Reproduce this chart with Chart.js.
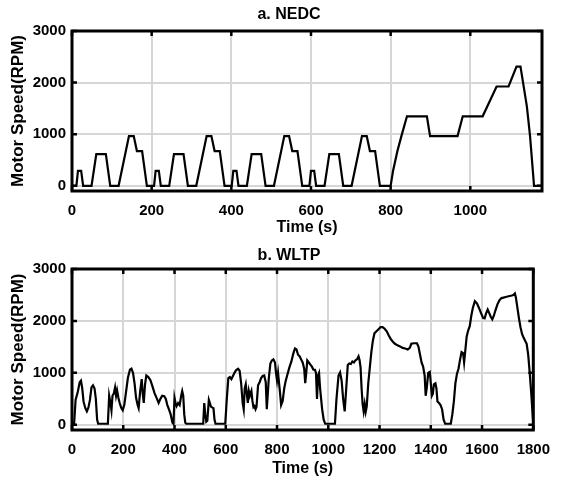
<!DOCTYPE html>
<html>
<head>
<meta charset="utf-8">
<script src="https://cdn.jsdelivr.net/npm/chart.js@4.4.1/dist/chart.umd.min.js"></script>
<style>
  html, body { margin: 0; padding: 0; background: #fff; }
  canvas { display: block; }
</style>
</head>
<body>
<canvas id="nedc" width="561" height="241"></canvas>
<canvas id="wltp" width="561" height="241"></canvas>
<script>
// NEDC motor speed (RPM) vs time (s)
const nedcTime = [
  0, 11, 15, 23, 28, 49, 61, 85, 96, 117, 143, 155, 163, 176, 188, 195,
  206, 210, 218, 223, 244, 256, 280, 291, 312, 338, 350, 358, 371, 383, 390,
  401, 405, 413, 418, 439, 451, 475, 486, 507, 533, 545, 553, 566, 578, 585,
  596, 600, 608, 613, 634, 646, 670, 681, 702, 728, 740, 748, 761, 773, 780,
  800, 806, 817, 827, 841, 891, 899, 968, 981, 1031, 1066, 1096, 1116, 1126, 1142, 1150, 1160, 1180
];
const nedcRpm = [
  0, 0, 289, 289, 0, 0, 616, 616, 0, 0, 963, 963, 674, 674, 0, 0,
  0, 289, 289, 0, 0, 616, 616, 0, 0, 963, 963, 674, 674, 0, 0,
  0, 289, 289, 0, 0, 616, 616, 0, 0, 963, 963, 674, 674, 0, 0,
  0, 289, 289, 0, 0, 616, 616, 0, 0, 963, 963, 674, 674, 0, 0,
  0, 289, 674, 963, 1347, 1347, 963, 963, 1347, 1347, 1925, 1925, 2310, 2310, 1540, 963, 0, 0
];

// WLTP motor speed (RPM) vs time (s)
const wltpTime = [
  0, 8, 14, 22, 30, 35, 40, 45, 52, 58, 64, 70, 76, 82, 88, 93, 98, 102, 140,
  145, 150, 154, 158, 163, 168, 172, 176, 181, 186, 192, 198, 204, 210, 218, 226,
  232, 238, 244, 250, 256, 260, 266, 272, 276, 280, 285, 290, 298, 306, 314, 322,
  330, 338, 345, 352, 360, 366, 372, 378, 385, 392, 396, 400, 404, 408, 414, 420,
  426, 430, 434, 438, 442, 446, 512, 516, 520, 524, 528, 534, 538, 542, 548, 552,
  556, 560, 598, 604, 610, 616, 622, 628, 634, 640, 648, 654, 660, 666, 670, 674,
  678, 682, 686, 690, 694, 700, 704, 708, 712, 716, 720, 726, 732, 738, 744, 750,
  756, 760, 764, 768, 774, 780, 786, 792, 796, 800, 804, 808, 812, 816, 822, 828,
  834, 840, 848, 856, 864, 870, 876, 882, 888, 894, 900, 906, 910, 914, 918, 924,
  930, 936, 942, 948, 952, 956, 960, 964, 968, 972, 976, 982, 988, 1026, 1032, 1040,
  1046, 1052, 1058, 1064, 1070, 1076, 1082, 1088, 1094, 1100, 1106, 1112, 1118, 1122, 1126, 1130,
  1134, 1138, 1142, 1146, 1150, 1156, 1162, 1168, 1174, 1180, 1188, 1196, 1204, 1212, 1220, 1228,
  1236, 1244, 1252, 1260, 1270, 1280, 1290, 1300, 1310, 1318, 1324, 1334, 1346, 1352, 1358, 1364,
  1370, 1376, 1380, 1384, 1390, 1396, 1400, 1404, 1408, 1412, 1418, 1422, 1426, 1432, 1438, 1444,
  1450, 1456, 1478, 1484, 1490, 1496, 1502, 1508, 1514, 1520, 1526, 1530, 1534, 1540, 1546, 1552,
  1558, 1564, 1572, 1580, 1588, 1596, 1604, 1610, 1616, 1622, 1628, 1634, 1640, 1646, 1652, 1660,
  1668, 1676, 1684, 1692, 1700, 1708, 1716, 1722, 1728, 1732, 1738, 1744, 1750, 1756, 1762, 1768,
  1774, 1780, 1786, 1792, 1800
];
const wltpRpm = [
  0, 0, 480, 620, 820, 850, 700, 450, 320, 260, 330, 480, 720, 760, 700, 500, 100, 20, 20,
  560, 420, 280, 560, 600, 720, 560, 660, 520, 420, 330, 280, 380, 600, 900, 1060,
  1080, 1000, 800, 520, 380, 320, 650, 880, 600, 420, 780, 950, 920, 860, 740, 610,
  520, 420, 500, 560, 550, 500, 380, 300, 200, 40, 20, 520, 420, 360, 420, 380,
  560, 650, 560, 200, 40, 20, 20, 420, 200, 60, 80, 480, 420, 350, 330, 320,
  100, 20, 20, 500, 900, 920, 880, 940, 1000, 1050, 1080, 1040, 800, 420, 300, 700,
  780, 600, 420, 650, 560, 650, 460, 340, 360, 300, 350, 760, 820, 900, 940, 950,
  820, 300, 600, 900, 1180, 1240, 1260, 1200, 1000, 850, 1000, 800, 600, 380, 460, 700,
  850, 960, 1100, 1220, 1380, 1470, 1450, 1350, 1320, 1260, 1200, 1080, 800, 1000, 1240, 1200,
  1160, 1120, 1060, 1060, 1000, 500, 950, 1000, 700, 500, 300, 100, 20, 20, 500, 950,
  1010, 850, 500, 260, 700, 1150, 1180, 1170, 1220, 1200, 1240, 1260, 1320, 1250, 1100, 700,
  400, 260, 400, 250, 350, 800, 1100, 1400, 1620, 1760, 1800, 1840, 1880, 1880, 1850, 1800,
  1720, 1650, 1600, 1560, 1530, 1510, 1480, 1470, 1450, 1480, 1560, 1570, 1570, 1500, 1350, 1200,
  1120, 950, 560, 700, 1000, 1020, 800, 560, 600, 780, 800, 700, 450, 420, 380, 300,
  100, 20, 20, 200, 450, 800, 980, 1080, 1250, 1400, 1380, 1200, 1400, 1700, 1820, 1900,
  2100, 2250, 2380, 2340, 2250, 2150, 2060, 2050, 2150, 2220, 2150, 2080, 2030, 2100, 2200, 2320,
  2400, 2440, 2450, 2460, 2470, 2480, 2490, 2500, 2530, 2450, 2250, 2050, 1880, 1750, 1680, 1620,
  1560, 1350, 1000, 600, 0
];

const yTicks = [0, 1000, 2000, 3000];
const nedcXTicks = [0, 200, 400, 600, 800, 1000];
const wltpXTicks = [0, 200, 400, 600, 800, 1000, 1200, 1400, 1600, 1800];

const FONT = "'Liberation Sans', Arial, Helvetica, sans-serif";

// box round the plot, MATLAB-style inward ticks, and the subplot title
const framePlugin = {
  id: 'frame',
  afterDraw(chart, args, opts) {
    const { ctx, chartArea: a, scales: { x, y } } = chart;
    ctx.save();
    ctx.strokeStyle = '#000';
    ctx.lineWidth = 2.5;
    ctx.beginPath();
    x.ticks.forEach(t => {
      const px = x.getPixelForValue(t.value);
      ctx.moveTo(px, a.bottom); ctx.lineTo(px, a.bottom - 5);
      ctx.moveTo(px, a.top); ctx.lineTo(px, a.top + 5);
    });
    y.ticks.forEach(t => {
      const py = y.getPixelForValue(t.value);
      ctx.moveTo(a.left, py); ctx.lineTo(a.left + 5, py);
      ctx.moveTo(a.right, py); ctx.lineTo(a.right - 5, py);
    });
    ctx.stroke();
    ctx.lineWidth = 3;
    ctx.strokeRect(a.left, a.top, a.right - a.left, a.bottom - a.top);

    ctx.fillStyle = '#000';
    ctx.font = 'bold 16px ' + FONT;
    ctx.textAlign = 'center';
    ctx.textBaseline = 'middle';
    ctx.fillText(opts.text, opts.x, opts.y);
    ctx.restore();
  }
};

function makeChart(id, title, times, rpms, xMax, xTicks, opts) {
  const points = times.map((t, i) => ({ x: t, y: rpms[i] }));
  const tickFont = { family: FONT, size: 15, weight: 'bold' };
  return new Chart(document.getElementById(id), {
    type: 'line',
    data: {
      datasets: [{
        data: points,
        borderColor: '#000',
        borderWidth: 2.2,
        pointRadius: 0,
        tension: 0,
        fill: false
      }]
    },
    options: {
      responsive: false,
      animation: false,
      devicePixelRatio: 1,
      layout: { padding: { left: 0, right: 19, top: opts.top, bottom: 0 } },
      plugins: {
        legend: { display: false },
        tooltip: { enabled: false },
        title: { display: false },
        frame: { text: title, x: 289, y: 15 }
      },
      scales: {
        x: {
          type: 'linear',
          min: 0,
          max: xMax,
          afterFit: s => { s.height = opts.xHeight; },
          afterBuildTicks: s => { s.ticks = xTicks.map(v => ({ value: v })); },
          ticks: {
            maxRotation: 0,
            autoSkip: false,
            color: '#000',
            padding: 11,
            font: tickFont,
            callback: v => String(v)
          },
          grid: { color: '#d6d6d6', lineWidth: 2, drawTicks: false },
          border: { display: false },
          title: {
            display: true,
            text: 'Time (s)',
            color: '#000',
            font: { family: FONT, size: 16, weight: 'bold' },
            padding: { top: 0, bottom: opts.xTitleBottom }
          }
        },
        y: {
          type: 'linear',
          min: -100,
          max: 3000,
          afterFit: s => { s.width = 72; },
          afterBuildTicks: s => { s.ticks = yTicks.map(v => ({ value: v })); },
          ticks: {
            color: '#000',
            padding: 6,
            font: tickFont,
            callback: v => String(v)
          },
          grid: { color: '#d6d6d6', lineWidth: 2, drawTicks: false },
          border: { display: false },
          title: {
            display: true,
            text: 'Motor Speed(RPM)',
            color: '#000',
            font: { family: FONT, size: 17, weight: 'bold' },
            padding: { top: 8, bottom: 0 }
          }
        }
      }
    },
    plugins: [framePlugin]
  });
}

makeChart('nedc', 'a. NEDC', nedcTime, nedcRpm, 1180, nedcXTicks,
  { top: 31, xHeight: 50, xTitleBottom: 4 });
makeChart('wltp', 'b. WLTP', wltpTime, wltpRpm, 1800, wltpXTicks,
  { top: 28, xHeight: 52, xTitleBottom: 4 });
</script>
</body>
</html>
